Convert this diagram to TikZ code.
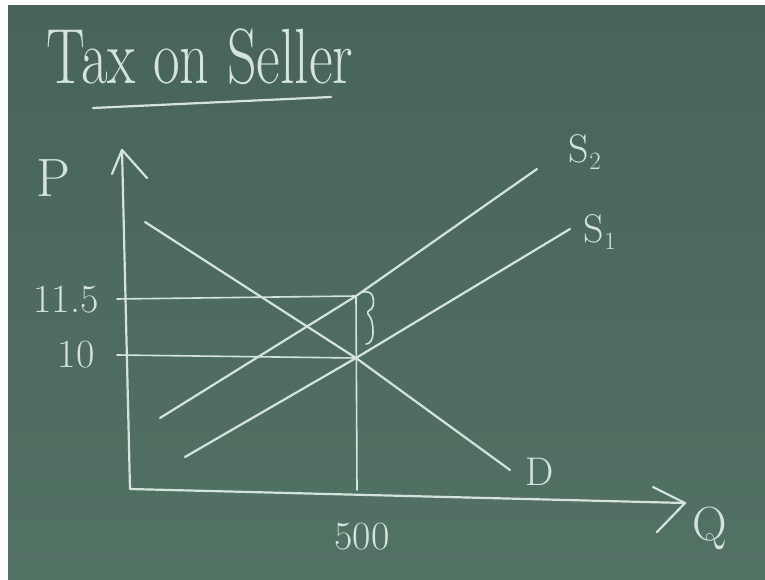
\documentclass[tikz,border=0pt]{standalone}
\usepackage{fontspec}
\definecolor{chalk}{RGB}{212,228,220}
\definecolor{boardtop}{RGB}{72,100,89}
\definecolor{boardbot}{RGB}{82,114,100}
\tikzset{
  chalkline/.style={draw=chalk, line width=2.2pt, line cap=round, line join=round},
  chalkthin/.style={draw=chalk, line width=1.6pt, line cap=round, line join=round},
  chalktext/.style={text=chalk, inner sep=0pt},
}
\begin{document}
\begin{tikzpicture}[x=1pt,y=-1pt]
\useasboundingbox (0,0) rectangle (765,580);
\fill[white] (0,0) rectangle (765,580);
\shade[top color=boardtop, bottom color=boardbot] (8,6) rectangle (765,580);

% title
\node[chalktext, font=\fontsize{58}{64}\selectfont, anchor=base] (title) at (200,84) {\scalebox{1}[1.35]{Tax on Seller}};
\coordinate (ul1) at (93,108);
\coordinate (ul2) at (331,97);
\draw[chalkline] (ul1) -- (ul2);

% axes
\coordinate (O) at (130,489);
\coordinate (Ytop) at (122,150);
\coordinate (Xend) at (685,503);
\coordinate (ya1) at (112,174);
\coordinate (ya2) at (147,178);
\coordinate (xa1) at (653,487);
\coordinate (xa2) at (657,532);
\draw[chalkline] (Ytop) -- (O) -- (Xend);
\draw[chalkline] (ya1) -- (Ytop) -- (ya2);
\draw[chalkline] (xa1) -- (Xend) -- (xa2);

% key points
\coordinate (E) at (356,358);
\coordinate (T) at (356,296);
\coordinate (Vb) at (357,490);
\coordinate (h15) at (117,299);
\coordinate (h10) at (117,355);

% guide lines
\draw[chalkthin] (h15) -- (T) -- (Vb);
\draw[chalkthin] (h10) -- (E);

% curves
\coordinate (s1a) at (185,457);
\coordinate (s1b) at (570,229);
\coordinate (s2a) at (160,418);
\coordinate (s2b) at (537,169);
\coordinate (da) at (145,222);
\coordinate (db) at (510,470);
\draw[chalkline] (s1a) -- (E) -- (s1b);
\draw[chalkline] (s2a) -- (T) -- (s2b);
\draw[chalkline] (da) -- (E) -- (db);

% brace
\coordinate (br1) at (363,292);
\coordinate (br2) at (368,314);
\coordinate (br3) at (366,344);
\draw[chalkthin] (br1) .. controls (374,290) and (374,300) .. (373,306)
  .. controls (372,311) and (366,310) .. (br2)
  .. controls (372,318) and (373,325) .. (373,332)
  .. controls (373,340) and (370,344) .. (br3);

% labels
\node[chalktext, font=\fontsize{54}{60}\selectfont] (P) at (53,178) {P};
\node[chalktext, font=\fontsize{40}{46}\selectfont] (l115) at (66,300) {11.5};
\node[chalktext, font=\fontsize{40}{46}\selectfont] (l10) at (76,355) {10};
\node[chalktext, font=\fontsize{40}{46}\selectfont] (l500) at (362,537) {500};
\node[chalktext, font=\fontsize{40}{46}\selectfont] (lD) at (540,472) {D};
\node[chalktext, font=\fontsize{48}{54}\selectfont] (lQ) at (710,528) {Q};
\node[chalktext, font=\fontsize{40}{46}\selectfont] (lS2) at (585,152) {S$_2$};
\node[chalktext, font=\fontsize{40}{46}\selectfont] (lS1) at (600,232) {S$_1$};
\end{tikzpicture}
\end{document}
